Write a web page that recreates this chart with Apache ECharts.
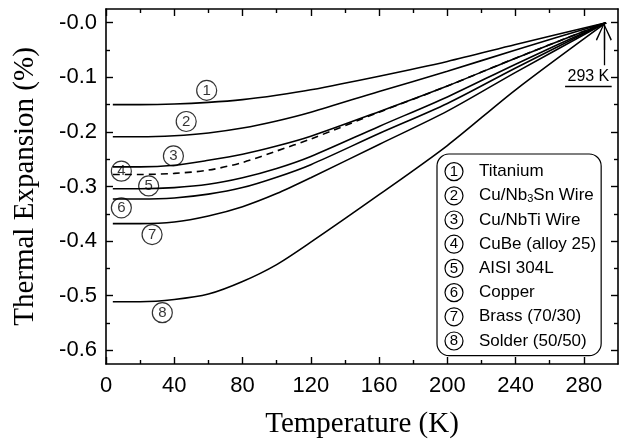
<!DOCTYPE html>
<html>
<head>
<meta charset="utf-8">
<script src="https://cdn.jsdelivr.net/npm/echarts@6/dist/echarts.min.js"></script>
<style>
  html, body { margin: 0; padding: 0; background: #fff; }
  #chart { width: 619px; height: 443px; }
</style>
</head>
<body>
<div id="chart"></div>
<script>
// temperatures (K) shared by all curves
const temps = [4, 20, 40, 60, 80, 100, 120, 160, 200, 240, 293];

const titanium = [-0.150, -0.150, -0.149, -0.146, -0.141, -0.133, -0.123, -0.098, -0.071, -0.040, 0];
const cuNb3Sn  = [-0.209, -0.209, -0.207, -0.202, -0.193, -0.180, -0.164, -0.126, -0.089, -0.050, 0];
const cuNbTi   = [-0.264, -0.264, -0.261, -0.252, -0.241, -0.226, -0.208, -0.163, -0.116, -0.065, 0];
const cuBe     = [-0.278, -0.278, -0.276, -0.270, -0.256, -0.235, -0.213, -0.164, -0.116, -0.065, 0];
const aisi304L = [-0.304, -0.304, -0.302, -0.296, -0.284, -0.267, -0.245, -0.190, -0.136, -0.076, 0];
const copper   = [-0.323, -0.323, -0.321, -0.314, -0.302, -0.283, -0.260, -0.203, -0.148, -0.083, 0];
const brass    = [-0.368, -0.368, -0.365, -0.354, -0.337, -0.313, -0.284, -0.223, -0.162, -0.091, 0];
const solder   = [-0.511, -0.511, -0.507, -0.497, -0.474, -0.443, -0.402, -0.315, -0.225, -0.123, 0];

const seriesNames = [
  "Titanium", "Cu/Nb3Sn Wire", "Cu/NbTi Wire", "CuBe (alloy 25)",
  "AISI 304L", "Copper", "Brass (70/30)", "Solder (50/50)"
];
const seriesValues = [titanium, cuNb3Sn, cuNbTi, cuBe, aisi304L, copper, brass, solder];

// circled curve numbers: [T, value, number]
const tagPoints = [
  [59, -0.124, 1], [47, -0.181, 2], [39.5, -0.244, 3], [9, -0.272, 4],
  [25, -0.299, 5], [9, -0.339, 6], [27, -0.388, 7], [33, -0.531, 8]
];

const xTicks = [0, 40, 80, 120, 160, 200, 240, 280];
const xMinorTicks = [20, 60, 100, 140, 180, 220, 260];
const yTicks = [-0.6, -0.5, -0.4, -0.3, -0.2, -0.1, 0];
const yMinorTicks = [-0.55, -0.45, -0.35, -0.25, -0.15, -0.05];

const SANS = "Liberation Sans";
const SERIF = "Liberation Serif";
const lineCol = "#000";

function tickAxis(base, ticks, len, showLine) {
  return Object.assign({
    type: "value",
    axisLine: { show: showLine, onZero: false, lineStyle: { color: lineCol, width: 1.6 } },
    axisTick: { show: true, inside: true, length: len, customValues: ticks,
      lineStyle: { color: lineCol, width: 1.4 } },
    axisLabel: { show: false },
    splitLine: { show: false }
  }, base);
}

const xRange = { min: 0, max: 300 };
const yRange = { min: -0.625, max: 0.025 };

const xAxes = [
  tickAxis(Object.assign({
    position: "bottom",
    name: "Temperature (K)",
    nameLocation: "middle",
    nameGap: 46,
    nameMoveOverlap: false,
    nameTextStyle: { fontFamily: SERIF, fontSize: 29, color: "#000" }
  }, xRange), xTicks, 7, true),
  tickAxis(Object.assign({ position: "bottom" }, xRange), xMinorTicks, 4, false),
  tickAxis(Object.assign({ position: "top" }, xRange), xTicks, 7, true),
  tickAxis(Object.assign({ position: "top" }, xRange), xMinorTicks, 4, false)
];
xAxes[0].axisLabel = {
  show: true, customValues: xTicks, margin: 11,
  fontFamily: SANS, fontSize: 22, color: "#000"
};

const yAxes = [
  tickAxis(Object.assign({
    position: "left",
    name: "Thermal Expansion (%)",
    nameLocation: "middle",
    nameGap: 66,
    nameMoveOverlap: false,
    nameTextStyle: { fontFamily: SERIF, fontSize: 29, color: "#000" }
  }, yRange), yTicks, 7, true),
  tickAxis(Object.assign({ position: "left" }, yRange), yMinorTicks, 4, false),
  tickAxis(Object.assign({ position: "right" }, yRange), yTicks, 7, true),
  tickAxis(Object.assign({ position: "right" }, yRange), yMinorTicks, 4, false)
];
yAxes[0].axisLabel = {
  show: true, customValues: yTicks, margin: 9,
  fontFamily: SANS, fontSize: 22, color: "#000",
  formatter: function (v) { return "-" + Math.abs(v).toFixed(1); }
};

const chevron = "path://M0,0 L10,14 L8.6,15 L0,2.4 L-8.6,15 L-10,14 Z";

const curveSeries = seriesNames.map(function (name, i) {
  const s = {
    name: name,
    type: "line",
    smooth: 0.3,
    symbol: "none",
    animation: false,
    color: "#000",
    lineStyle: { color: "#000", width: 1.6, type: i === 3 ? [7, 5] : "solid" },
    data: temps.map(function (t, j) { return [t, seriesValues[i][j]]; })
  };
  if (i === 0) {
    s.markLine = {
      silent: true,
      animation: false,
      symbol: "none",
      lineStyle: { color: "#000", width: 1.3, type: "solid" },
      label: { show: false },
      data: [
        [{ coord: [291.7, -0.078] }, { coord: [291.7, 0] }],
        [{ coord: [291.7, -0.05], symbol: "none" },
         { coord: [291.7, -0.0165], symbol: chevron, symbolSize: [16, 18] }],
        [{ coord: [269, -0.116] }, { coord: [296.3, -0.116],
          label: { show: true, position: "middle", distance: 1, formatter: "293 K",
            fontFamily: SANS, fontSize: 16, color: "#000" } }]
      ]
    };
  }
  return s;
});

const tagSeries = {
  name: "tags",
  type: "scatter",
  animation: false,
  symbol: "circle",
  symbolSize: 20,
  itemStyle: { color: "rgba(0,0,0,0)", borderColor: "#000", borderWidth: 1.2 },
  label: {
    show: true, position: "inside", color: "#000", fontFamily: SANS, fontSize: 15,
    formatter: function (p) { return String(p.value[2]); }
  },
  data: tagPoints,
  z: 5
};

const option = {
  backgroundColor: "#fff",
  grid: { left: 106, right: 1, top: 9, bottom: 79, outerBoundsMode: "none" },
  xAxis: xAxes,
  yAxis: yAxes,
  legend: {
    data: seriesNames,
    orient: "vertical",
    left: 437,
    top: 154,
    icon: "none",
    itemWidth: 0,
    itemHeight: 18,
    itemGap: 5,
    padding: [8, 5, 5, 3],
    borderColor: "#000",
    borderWidth: 1.2,
    borderRadius: 12,
    selectedMode: false,
    textStyle: {
      fontFamily: SANS, fontSize: 17, color: "#000", lineHeight: 18,
      rich: {
        c: { width: 18, height: 18, lineHeight: 18, align: "center", fontSize: 15,
          fontFamily: SANS, color: "#000", borderColor: "#000", borderWidth: 1.2, borderRadius: 9 },
        g: { width: 16 },
        s: { fontSize: 11, lineHeight: 10, verticalAlign: "bottom", fontFamily: SANS, color: "#000" }
      }
    },
    formatter: function (name) {
      const idx = seriesNames.indexOf(name) + 1;
      return "{c|" + idx + "}{g| }" + name.replace("Nb3Sn", "Nb{s|3}Sn");
    }
  },
  series: curveSeries.concat([tagSeries])
};

const myChart = echarts.init(document.getElementById("chart"));
myChart.setOption(option);
</script>
</body>
</html>
